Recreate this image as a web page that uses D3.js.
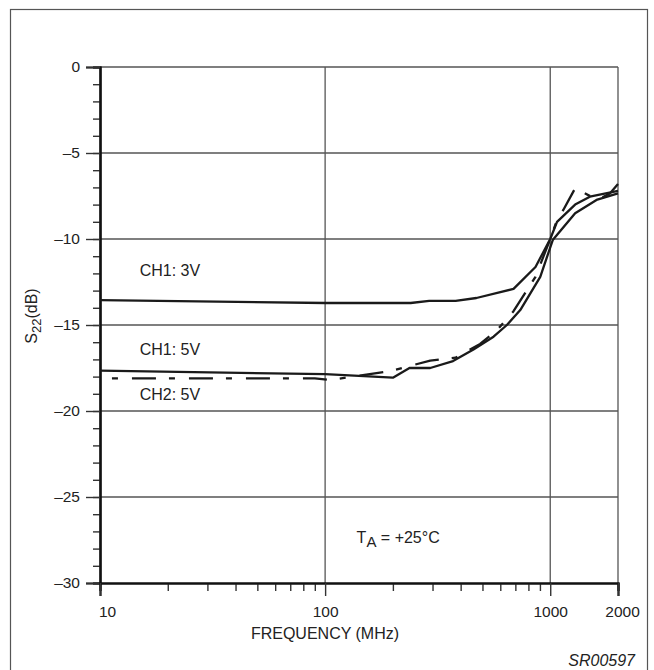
<!DOCTYPE html>
<html>
<head>
<meta charset="utf-8">
<script src="https://cdn.jsdelivr.net/npm/d3@7"></script>
<style>
  body { margin: 0; background: #fff; }
  svg { display: block; font-family: "Liberation Sans", Arial, sans-serif; }
</style>
</head>
<body>
<div id="chart"></div>
<script>
// --- data ---
const freq3V = [10, 100, 240, 290, 380, 470, 687, 860, 1000, 1072, 1290, 1500, 2000];
const s22Ch1_3V = [-13.55, -13.72, -13.72, -13.6, -13.6, -13.43, -12.9, -11.63, -10.0, -9.0, -8.0, -7.54, -7.2];

const freq5V = [10, 100, 200, 237, 293, 370, 456, 560, 642, 736, 903, 1026, 1290, 1605, 2000];
const s22Ch1_5V = [-17.65, -17.86, -18.06, -17.5, -17.5, -17.1, -16.42, -15.68, -15.0, -14.13, -12.2, -10.06, -8.5, -7.73, -7.35];

const freqCh2 = [11.3, 90, 105, 200, 238, 293, 380, 488, 580, 687, 860, 1000, 1072, 1143, 1290, 1620, 1840, 2000];
const s22Ch2_5V = [-18.1, -18.1, -18.2, -17.65, -17.38, -17.07, -16.9, -16.1, -15.3, -14.2, -12.2, -10.0, -8.9, -8.31, -7.05, -7.73, -7.35, -6.8];

const xMajorTicks = [10, 100, 1000, 2000];
const xMinorTicks = [20, 30, 40, 50, 60, 70, 80, 90, 200, 300, 400, 500, 600, 700, 800, 900];
const yMajorTicks = [0, -5, -10, -15, -20, -25, -30];
const yMinorTicks = d3.range(0, -31, -1);

const curveLabels = [
  { text: 'CH1: 3V', f: 15, db: -12.15 },
  { text: 'CH1: 5V', f: 15, db: -16.74 },
  { text: 'CH2: 5V', f: 15, db: -19.36 }
];

const width = 654, height = 670;
const plot = { left: 100, right: 618, top: 67, bottom: 583 };

const svg = d3.select('#chart').append('svg')
  .attr('width', width)
  .attr('height', height);

// outer frame
svg.append('rect')
  .attr('x', 10.5).attr('y', 9.5)
  .attr('width', 637).attr('height', 670)
  .attr('fill', 'none')
  .attr('stroke', '#555')
  .attr('stroke-width', 1.2);

const x = d3.scaleLog().domain([10, 2000]).range([plot.left, plot.right]);
const y = d3.scaleLinear().domain([-30, 0]).range([plot.bottom, plot.top]);

// grid lines
const grid = svg.append('g').attr('stroke', '#555').attr('stroke-width', 1.3);
yMajorTicks.filter(d => d > -30).forEach(d => {
  grid.append('line')
    .attr('x1', plot.left).attr('x2', plot.right)
    .attr('y1', y(d)).attr('y2', y(d));
});
[100, 1000, 2000].forEach(f => {
  grid.append('line')
    .attr('x1', x(f)).attr('x2', x(f))
    .attr('y1', plot.top).attr('y2', plot.bottom);
});

// y axis: minor then major ticks
const yMinor = svg.append('g')
  .attr('transform', `translate(${plot.left},0)`)
  .call(d3.axisLeft(y).tickValues(yMinorTicks).tickSize(7).tickFormat(''));
const yMajor = svg.append('g')
  .attr('transform', `translate(${plot.left},0)`)
  .call(d3.axisLeft(y).tickValues(yMajorTicks).tickSize(14).tickPadding(6)
    .tickFormat(d => d === 0 ? '0' : '\u2013' + Math.abs(d)));

// x axis
const xMinor = svg.append('g')
  .attr('transform', `translate(0,${plot.bottom})`)
  .call(d3.axisBottom(x).tickValues(xMinorTicks).tickSize(8).tickFormat(''));
const xMajor = svg.append('g')
  .attr('transform', `translate(0,${plot.bottom})`)
  .call(d3.axisBottom(x).tickValues(xMajorTicks).tickSize(13).tickPadding(10)
    .tickFormat(d3.format('d')));

[yMinor, yMajor, xMinor, xMajor].forEach(g => {
  g.select('.domain').attr('stroke', '#111').attr('stroke-width', 2.2);
  g.selectAll('.tick line').attr('stroke', '#333').attr('stroke-width', 1.4);
  g.selectAll('.tick text')
    .attr('fill', '#222')
    .style('font-size', '15.5px')
    .style('font-family', '"Liberation Sans", Arial, sans-serif');
});
// nudge end labels like the original
xMajor.selectAll('.tick text').attr('dx', d => d === 10 ? 7 : d === 2000 ? 4 : 0);

// curves
const line = d3.line()
  .x(d => x(d[0]))
  .y(d => y(d[1]));

const series = [
  { f: freq3V, v: s22Ch1_3V, dash: null },
  { f: freq5V, v: s22Ch1_5V, dash: null },
  { f: freqCh2, v: s22Ch2_5V, dash: '6,14,24,13' }
];

series.forEach(s => {
  svg.append('path')
    .datum(s.f.map((f, i) => [f, s.v[i]]))
    .attr('d', line)
    .attr('fill', 'none')
    .attr('stroke', '#1a1a1a')
    .attr('stroke-width', 2.3)
    .attr('stroke-linejoin', 'round')
    .attr('stroke-dasharray', s.dash);
});

// curve labels
svg.selectAll('.curve-label')
  .data(curveLabels)
  .join('text')
  .attr('class', 'curve-label')
  .attr('x', d => x(d.f))
  .attr('y', d => y(d.db))
  .style('font-size', '16px')
  .attr('fill', '#222')
  .text(d => d.text);

// temperature note
const note = svg.append('text')
  .attr('x', x(138))
  .attr('y', y(-27.67))
  .style('font-size', '16px')
  .attr('fill', '#222');
note.append('tspan').text('T');
note.append('tspan').attr('dy', 4).style('font-size', '15px').text('A');
note.append('tspan').attr('dy', -4).text(' = +25\u00B0C');

// axis titles
svg.append('text')
  .attr('x', 325)
  .attr('y', 639)
  .attr('text-anchor', 'middle')
  .style('font-size', '16px')
  .attr('fill', '#222')
  .text('FREQUENCY (MHz)');

const yTitle = svg.append('text')
  .attr('transform', 'translate(37,316) rotate(-90)')
  .attr('text-anchor', 'middle')
  .style('font-size', '16px')
  .attr('fill', '#222');
yTitle.append('tspan').text('S');
yTitle.append('tspan').attr('dy', 4).style('font-size', '13px').text('22');
yTitle.append('tspan').attr('dy', -4).text('(dB)');

svg.append('text')
  .attr('x', 635)
  .attr('y', 666)
  .attr('text-anchor', 'end')
  .style('font-size', '16px')
  .style('font-style', 'italic')
  .attr('fill', '#222')
  .text('SR00597');
</script>
</body>
</html>
